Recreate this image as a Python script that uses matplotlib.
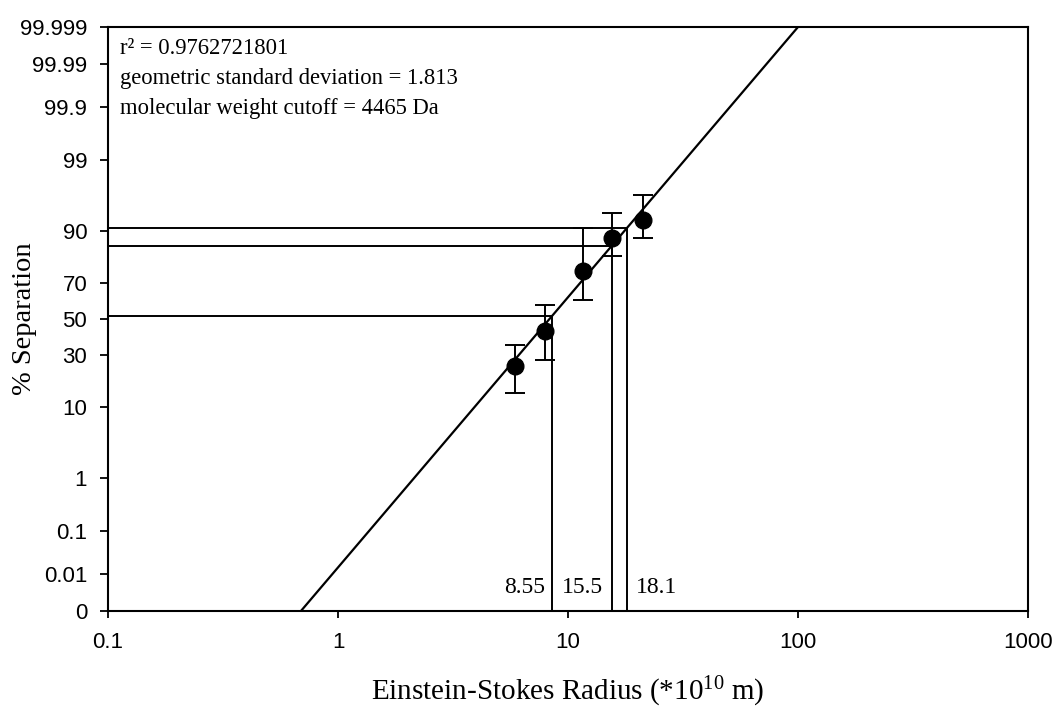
# % separation vs Einstein-Stokes radius, probability (probit) y axis
import matplotlib
matplotlib.use("Agg")
import matplotlib.pyplot as plt
import matplotlib.transforms as mtransforms
from statistics import NormalDist

radius = [5.88, 7.93, 11.65, 15.6, 21.2]          # *10^10 m
separation = [24.7, 43.3, 75.9, 88.1, 92.5]       # %
sep_low = [14.1, 27.5, 60.7, 82.1, 88.2]
sep_high = [35.2, 58.3, 90.9, 93.9, 96.5]

# fitted line, where it leaves the plot
fit_radius = [0.69, 100.0]
fit_sep = [0.001, 99.999]

# cutoff radii and their separation on the fit
cut_radius = [8.55, 15.5, 18.1]
cut_sep = [52.0, 85.7, 90.8]
cut_labels = ["8.55", "15.5", "18.1"]

ytick_pct = [0.001, 0.01, 0.1, 1, 10, 30, 50, 70, 90, 99, 99.9, 99.99, 99.999]
ytick_labels = ["0", "0.01", "0.1", "1", "10", "30", "50", "70", "90", "99",
                "99.9", "99.99", "99.999"]
xtick_vals = [0.1, 1, 10, 100, 1000]
xtick_labels = ["0.1", "1", "10", "100", "1000"]

info = ["r\u00b2 = 0.9762721801",
        "geometric standard deviation = 1.813",
        "molecular weight cutoff = 4465 Da"]

nd = NormalDist()
def probit(p):
    return nd.inv_cdf(p / 100.0)

serif = "Liberation Serif"
sans = "Liberation Sans"
plt.rcParams["mathtext.fontset"] = "custom"
plt.rcParams["mathtext.rm"] = serif
plt.rcParams["mathtext.it"] = serif + ":italic"

fig = plt.figure(figsize=(10.61, 7.10), dpi=100)
ax = fig.add_axes([108 / 1061, 1 - 611 / 710, 920 / 1061, 584 / 710])

zmin, zmax = probit(ytick_pct[0]), probit(ytick_pct[-1])

# fit line
ax.plot(fit_radius, [probit(p) for p in fit_sep], color="black", lw=1.6)

# cutoff guide lines
for r, p in zip(cut_radius, cut_sep):
    z = probit(p)
    ax.plot([0.1, r], [z, z], color="black", lw=1.4)
    ax.plot([r, r], [zmin, z], color="black", lw=1.4)

# data with error bars
zs = [probit(p) for p in separation]
lo = [z - probit(p) for z, p in zip(zs, sep_low)]
hi = [probit(p) - z for z, p in zip(zs, sep_high)]
ax.errorbar(radius, zs, yerr=[lo, hi], fmt="o", color="black", ms=12,
            ecolor="black", elinewidth=1.4, capsize=7, capthick=1.4, zorder=5)

ax.set_xscale("log")
ax.set_xlim(0.1, 1000)
ax.set_ylim(zmin, zmax)
ax.set_xticks(xtick_vals)
ax.set_xticklabels(xtick_labels)
ax.xaxis.set_minor_locator(matplotlib.ticker.NullLocator())
ax.set_yticks([probit(p) for p in ytick_pct])
ax.set_yticklabels(ytick_labels)

for lab in ax.get_xticklabels() + ax.get_yticklabels():
    lab.set_fontfamily(sans)
    lab.set_fontsize(16)
ax.tick_params(axis="y", direction="out", length=6, width=1.3, pad=9)
ax.tick_params(axis="x", direction="out", length=5, width=1.3, pad=10)
for s in ax.spines.values():
    s.set_linewidth(1.5)

ax.set_xlabel("Einstein-Stokes Radius (*10$^{10}$ m)", family=serif, fontsize=21)
ax.xaxis.set_label_coords(0.5, (611 - 692) / 584)
ax.xaxis.label.set_va("center")
ax.set_ylabel("% Separation", family=serif, fontsize=20.5)
ax.yaxis.set_label_coords((25 - 108) / 920, 0.5)
ax.yaxis.label.set_va("center")

# fit summary, one line at a time
for txt, yb in zip(info, [54, 84, 114]):
    ax.text(0.013, (611 - yb) / 584, txt, transform=ax.transAxes, family=serif,
            fontsize=16.3, va="baseline", ha="left")

# labels next to the cutoff lines
trans = mtransforms.blended_transform_factory(ax.transData, ax.transAxes)
ax.annotate(cut_labels[0], (cut_radius[0], 0.04), xycoords=trans,
            xytext=(-5, 0), textcoords="offset points", ha="right", va="center",
            family=serif, fontsize=17)
ax.annotate(cut_labels[1], (cut_radius[0], 0.04), xycoords=trans,
            xytext=(7, 0), textcoords="offset points", ha="left", va="center",
            family=serif, fontsize=17)
ax.annotate(cut_labels[2], (cut_radius[2], 0.04), xycoords=trans,
            xytext=(6, 0), textcoords="offset points", ha="left", va="center",
            family=serif, fontsize=17)

plt.savefig("out.png", dpi=100)
